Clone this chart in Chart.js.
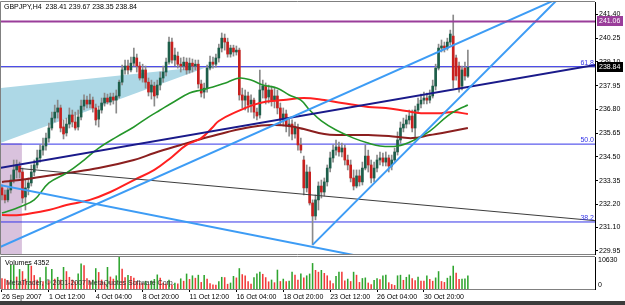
<!DOCTYPE html>
<html>
<head>
<meta charset="utf-8">
<script src="https://cdn.jsdelivr.net/npm/chart.js@4.4.0/dist/chart.umd.min.js"></script>
<style>
  html, body { margin: 0; padding: 0; background: #fff; }
  #wrap { position: relative; width: 625px; height: 305px; overflow: hidden; background: #fff; }
  #main { position: absolute; left: 0; top: 0; }
  #vol { position: absolute; left: 0; top: 256px; }
  #foot { position: absolute; left: 0; top: 301px; width: 625px; height: 4px; background: #3c3c3c; }
</style>
</head>
<body>
<div id="wrap">
  <canvas id="main" width="625" height="256"></canvas>
  <canvas id="vol" width="625" height="45"></canvas>
  <div id="foot"></div>
</div>
<script>
// GBPJPY H4, 160 bars
const openP = [
  233.00,232.66,232.42,232.90,233.38,233.87,234.06,233.77,232.56,233.00,
  233.24,233.77,234.11,234.45,234.83,235.03,235.41,235.90,236.38,236.67,
  236.87,235.95,235.66,236.09,236.53,236.19,235.95,236.43,236.96,237.25,
  237.06,237.25,236.87,236.33,236.77,237.11,237.35,237.16,237.40,237.25,
  237.45,238.12,238.71,238.90,238.71,239.04,239.29,238.90,238.32,238.71,
  238.12,237.64,237.93,237.50,237.98,238.32,238.61,239.09,240.06,239.19,
  239.38,238.99,238.90,239.09,238.71,239.04,238.90,238.99,238.03,237.64,
  237.83,238.80,239.09,238.99,239.29,239.77,240.25,240.06,239.48,239.77,
  239.58,239.67,237.50,237.25,237.45,237.06,237.25,236.67,236.53,237.74,
  237.93,237.40,237.74,237.25,237.45,236.87,236.29,236.58,236.00,236.09,
  235.61,235.90,235.08,234.35,233.00,233.77,232.27,231.64,232.42,233.09,
  232.80,233.29,233.96,234.45,234.83,234.98,234.74,234.93,234.35,234.11,
  233.48,233.09,233.58,233.29,233.96,234.54,234.11,233.48,233.96,234.35,
  234.45,234.25,234.45,234.06,234.35,234.74,235.32,235.90,236.09,236.29,
  236.48,235.90,236.77,237.06,237.25,237.35,237.25,237.45,237.93,238.80,
  239.77,239.87,239.77,240.06,240.35,239.29,238.90,237.93,238.80,238.41
];
const highP = [
  233.14,232.90,233.00,233.63,234.35,234.35,234.25,233.96,233.38,233.48,
  234.11,234.35,234.83,235.08,235.41,235.66,236.14,236.67,237.01,237.25,
  237.01,236.29,236.38,236.87,236.77,236.67,236.77,237.25,237.50,237.45,
  237.54,237.40,237.06,236.96,237.35,237.59,237.54,237.59,237.59,237.74,
  238.22,238.95,239.19,239.19,239.33,239.77,239.48,239.09,238.99,238.90,
  238.32,238.22,238.12,238.22,238.61,238.90,239.29,240.30,240.25,239.77,
  239.58,239.29,239.33,239.29,239.29,239.24,239.19,239.19,238.22,238.08,
  238.95,239.38,239.33,239.48,239.96,240.50,240.45,240.25,239.91,239.91,
  239.87,239.77,237.83,237.74,237.64,237.50,237.35,236.87,238.71,238.22,
  238.08,237.98,237.93,237.83,237.74,237.11,236.87,236.77,236.38,236.29,
  236.19,236.09,235.41,234.54,234.11,234.01,232.42,232.66,233.29,233.38,
  233.48,234.11,234.74,235.08,235.32,235.22,235.17,235.08,234.59,234.35,
  233.87,233.87,233.87,234.25,235.08,234.83,234.35,234.25,234.59,234.74,
  234.69,234.74,234.59,234.59,234.93,235.71,236.19,236.38,236.53,236.77,
  236.77,236.96,237.35,237.54,237.64,237.59,237.74,238.22,238.99,239.96,
  240.16,240.06,240.25,240.64,241.37,239.43,239.09,238.90,239.09,239.67
];
const lowP = [
  232.42,232.27,232.32,232.75,233.24,233.48,233.48,232.27,231.93,232.66,
  233.09,233.58,233.96,234.25,234.59,234.83,235.22,235.80,236.19,236.38,
  235.71,235.37,235.51,235.90,235.95,235.80,235.80,236.29,236.77,236.87,
  236.87,236.67,236.04,235.95,236.62,236.96,237.06,237.01,237.06,236.62,
  237.35,237.98,238.51,238.51,238.61,238.90,238.61,238.22,238.12,237.83,
  237.45,237.30,236.96,237.35,237.74,238.12,238.42,238.99,239.04,238.90,
  238.80,238.61,238.71,238.51,238.56,238.61,238.71,237.83,237.40,237.35,
  237.64,238.71,238.80,238.85,239.09,239.58,239.67,239.33,239.33,239.38,
  239.43,237.25,236.87,236.77,236.67,236.67,236.38,236.29,236.38,237.35,
  237.06,237.11,236.96,236.87,236.58,236.04,236.00,235.71,235.51,235.32,
  235.41,234.83,234.69,232.66,232.80,232.17,230.24,231.45,231.93,232.51,
  232.61,233.09,233.77,234.25,234.59,234.54,234.50,234.11,233.87,233.29,
  232.90,233.00,233.09,233.14,233.87,233.77,233.24,233.29,233.77,234.11,
  234.06,234.06,233.77,233.87,234.21,234.59,235.17,235.71,235.90,236.09,
  235.71,235.32,236.62,236.87,237.06,237.06,237.11,237.35,237.74,238.71,
  239.58,239.58,239.67,239.91,237.83,238.22,237.64,237.74,238.22,238.35
];
const closeP = [
  232.66,232.42,232.90,233.38,233.87,234.11,233.77,232.51,233.00,233.24,
  233.77,234.11,234.45,234.83,235.03,235.41,235.90,236.38,236.67,236.87,
  235.90,235.61,236.09,236.53,236.19,235.90,236.43,236.96,237.25,237.06,
  237.25,236.87,236.29,236.77,237.11,237.35,237.16,237.40,237.25,237.45,
  238.12,238.71,238.90,238.71,239.04,239.33,238.90,238.32,238.71,238.12,
  237.64,237.98,237.45,237.98,238.32,238.61,239.09,240.06,239.19,239.43,
  238.99,238.90,239.09,238.71,239.04,238.90,238.99,238.03,237.59,237.83,
  238.80,239.09,238.99,239.29,239.77,240.25,240.06,239.48,239.77,239.58,
  239.67,237.50,237.25,237.45,237.01,237.25,236.67,236.48,237.74,237.93,
  237.35,237.74,237.25,237.45,236.87,236.29,236.58,236.00,236.09,235.61,
  235.90,235.08,234.83,233.00,233.77,232.27,231.64,232.42,233.09,232.80,
  233.29,233.96,234.45,234.83,234.98,234.74,234.93,234.35,234.11,233.48,
  233.09,233.58,233.29,233.96,234.54,234.11,233.48,233.96,234.35,234.45,
  234.25,234.45,234.06,234.35,234.74,235.32,235.90,236.09,236.29,236.48,
  235.90,236.77,237.06,237.25,237.35,237.25,237.45,237.93,238.80,239.77,
  239.87,239.77,240.06,240.45,238.22,238.42,237.83,238.71,238.42,238.84
];
const volumes = [
  3500,3300,2800,7900,8000,4000,6500,5800,3300,8200,
  7600,4500,3000,3800,2500,7300,2700,6500,3300,3900,
  3000,7200,5800,3900,3000,2400,5000,8400,7800,3500,
  2600,3000,6800,5500,3000,2200,7200,4000,3300,4400,
  10630,6600,3800,4500,4200,3600,2500,2000,1800,2600,
  1500,2700,3200,4700,3600,2000,1600,3000,1400,2000,
  1700,3400,2600,5000,3200,4400,3600,4600,2200,4500,
  3300,1800,1400,1300,2500,3900,3800,1600,2000,4200,
  3700,6800,4800,4400,2500,1600,3800,5000,5600,4900,
  3800,2400,3000,2100,6300,2500,3300,2500,2600,5600,
  4600,3000,5000,3700,4400,5000,8500,6200,5600,6200,
  5200,4400,2700,1800,4200,5600,5600,2700,3300,2500,
  5600,4600,2200,3500,3700,2000,1500,2900,3500,3100,
  4400,4600,2100,1500,1200,4400,4600,2900,3900,4700,
  3500,2800,4000,2600,2600,4400,3200,2600,3700,5800,
  2500,2200,3600,4300,7600,5300,3200,3300,3400,4352
];

// moving averages, read at sample bars
const maFastX = [0,6,11,16,22,28,33,39,45,50,54,58,64,68,72,77,81,85,89,94,98,102,105,109,114,120,125,129,135,140,146,152,156,159];
const maFast = [231.78,232.08,232.42,233.24,233.72,234.35,234.93,235.46,235.95,236.43,236.77,237.11,237.59,237.74,237.88,238.12,238.32,238.22,237.98,237.83,237.50,237.25,236.77,236.24,235.80,235.41,235.17,235.03,235.03,235.27,235.75,236.48,236.82,237.01];
const maMidX = [0,6,16,22,30,37,45,52,58,63,68,72,74,79,88,96,103,110,116,125,131,138,143,150,154,159];
const maMid = [231.69,231.69,231.93,232.17,232.42,232.80,233.38,233.87,234.50,235.08,235.41,235.95,236.24,236.62,237.11,237.25,237.35,237.25,237.11,236.92,236.87,236.72,236.62,236.62,236.67,236.58];
const maSlowX = [0,6,13,22,33,45,52,61,68,77,85,92,98,103,110,115,125,132,140,146,152,159];
const maSlow = [233.29,233.38,233.53,233.72,233.96,234.35,234.69,235.08,235.37,235.71,235.95,236.04,236.00,235.85,235.61,235.56,235.56,235.51,235.41,235.56,235.71,235.90];

// drawn objects (bar index, price)
const navyX = [-2, 205], navyY = [233.93, 239.01];
const blackX = [6.1, 205], blackY = [233.94, 231.38];
const blueAX = [-2, 125], blueAY = [233.18, 229.61];
const blueBX = [-2, 190], blueBY = [230.05, 242.18];
const blueCX = [106, 190], blueCY = [230.24, 242.18];
const triX = [-0.7, 71], triTop = [237.83, 238.90], triBottom = [235.17, 238.90];
const rectX = [-0.7, 6.8], rectTop = 235.17;
const fibLevels = [238.87, 235.12, 231.35];
const fibLabels = ['61.8', '50.0', '38.2'];
const purpleLevel = 241.06;
const bidLevel = 238.84;

const priceTicks = [241.40, 240.25, 239.10, 237.95, 236.80, 235.65, 234.50, 233.35, 232.20, 231.10, 229.95];
const xTickIdx = [0, 16, 32, 48, 64, 80, 96, 112, 128, 144];
const xTickLabels = ['26 Sep 2007', '1 Oct 12:00', '4 Oct 04:00', '8 Oct 20:00', '11 Oct 12:00',
  '16 Oct 04:00', '18 Oct 20:00', '23 Oct 12:00', '26 Oct 04:00', '30 Oct 20:00'];

const xMin = -0.34, xMax = 202.39;
const pMin = 229.80, pMax = 242.00;
const FONT = '"Liberation Sans", Arial, sans-serif';

Chart.defaults.font.family = FONT;
Chart.defaults.font.size = 7;
Chart.defaults.color = '#000';

function pts(xs, ys) {
  return xs.map((x, i) => ({ x: x, y: ys[i] }));
}
function lineSet(xs, ys, color, width, order, extra) {
  return Object.assign({
    type: 'line', data: pts(xs, ys), borderColor: color, borderWidth: width,
    pointRadius: 0, tension: 0, fill: false, order: order
  }, extra || {});
}
function hLine(v, color, width, order) {
  return lineSet([xMin - 1, xMax + 1], [v, v], color, width, order);
}

const bull = '#1d5e4a', bear = '#c8201e';
const last = closeP.length - 1;

const datasets = [
  lineSet(rectX, [rectTop, rectTop], 'rgba(0,0,0,0)', 0, 100, { fill: 'start', backgroundColor: '#d9c2dd' }),
  lineSet(triX, triTop, 'rgba(0,0,0,0)', 0, 99),
  lineSet(triX, triBottom, 'rgba(0,0,0,0)', 0, 99, { fill: '-1', backgroundColor: '#add8e6' }),
  hLine(bidLevel, '#c4c4c4', 1, 91)
];
fibLevels.forEach(v => datasets.push(hLine(v, '#3434e8', 1, 90)));
datasets.push(
  {
    type: 'bar', data: lowP.map((l, i) => ({ x: i, y: [l, highP[i]] })),
    backgroundColor: '#8a8a8a', barThickness: 1, grouped: false, order: 60
  },
  {
    type: 'bar', data: openP.map((o, i) => ({ x: i, y: [o, closeP[i]] })),
    backgroundColor: openP.map((o, i) => closeP[i] >= o ? bull : bear),
    barThickness: 2, minBarLength: 1, grouped: false, order: 50
  },
  lineSet(maSlowX, maSlow, '#8b1f1f', 2, 32, { tension: 0.4 }),
  lineSet(maMidX, maMid, '#ff2020', 2, 31, { tension: 0.4 }),
  lineSet(maFastX, maFast, '#24962a', 1.6, 30, { tension: 0.4 }),
  lineSet(blackX, blackY, '#3c3c3c', 1, 22),
  lineSet(navyX, navyY, '#1a1a8a', 2, 21),
  lineSet(blueAX, blueAY, '#3d9cf5', 2, 20),
  lineSet(blueBX, blueBY, '#3d9cf5', 2, 20),
  lineSet(blueCX, blueCY, '#3d9cf5', 2, 20),
  hLine(purpleLevel, '#9a3d9a', 2, 10)
);

const mainOverlay = {
  id: 'mainOverlay',
  afterDraw(chart) {
    const { ctx, chartArea: a } = chart;
    const y = chart.scales.y;
    ctx.save();
    ctx.strokeStyle = '#808080';
    ctx.lineWidth = 1;
    ctx.beginPath();
    ctx.moveTo(a.left - 0.5, a.bottom + 0.5);
    ctx.lineTo(a.left - 0.5, a.top - 0.5);
    ctx.lineTo(a.right, a.top - 0.5);
    ctx.moveTo(a.left - 0.5, a.bottom + 0.5);
    ctx.lineTo(a.right, a.bottom + 0.5);
    ctx.stroke();

    ctx.font = '7px ' + FONT;
    ctx.textBaseline = 'middle';
    ctx.fillStyle = '#000';
    ctx.textAlign = 'left';
    ctx.fillText('GBPJPY,H4  ' + [openP[last], highP[last], lowP[last], closeP[last]].map(v => v.toFixed(2)).join(' '),
      a.left + 3, a.top + 5);

    ctx.fillStyle = '#3434e8';
    ctx.textAlign = 'right';
    ctx.textBaseline = 'alphabetic';
    fibLevels.forEach((v, i) => {
      ctx.fillText(fibLabels[i], a.right - 1, y.getPixelForValue(v) - 2);
    });

    ctx.textAlign = 'left';
    ctx.textBaseline = 'middle';
    [[purpleLevel, '#9a3d9a'], [bidLevel, '#000']].forEach(([v, c]) => {
      const py = Math.round(y.getPixelForValue(v));
      ctx.fillStyle = c;
      ctx.fillRect(a.right + 2, py - 5, 26, 10);
      ctx.fillStyle = '#fff';
      ctx.fillText(v.toFixed(2), a.right + 4, py + 0.5);
    });
    ctx.restore();
  }
};

new Chart(document.getElementById('main'), {
  type: 'bar',
  data: { datasets: datasets },
  options: {
    responsive: false,
    animation: false,
    devicePixelRatio: 1,
    layout: { padding: { left: 1, top: 2, right: 0, bottom: 2 } },
    plugins: { legend: { display: false }, tooltip: { enabled: false } },
    scales: {
      x: { type: 'linear', min: xMin, max: xMax, offset: false, display: false },
      y: {
        type: 'linear', position: 'right', min: pMin, max: pMax,
        afterBuildTicks: s => { s.ticks = priceTicks.map(v => ({ value: v })); },
        afterFit: s => { s.width = 30; s.paddingTop = 0; s.paddingBottom = 0; },
        ticks: { callback: v => v.toFixed(2), padding: 1, color: '#000' },
        grid: { drawOnChartArea: false, tickLength: 3, color: '#000' },
        border: { color: '#000' }
      }
    }
  },
  plugins: [mainOverlay]
});

// volume panel
const volGreen = '#2fa52f', volRed = '#f23a3a';
const volColors = volumes.map((v, i) => (i > 0 && v > volumes[i - 1]) ? volGreen : volRed);

const volOverlay = {
  id: 'volOverlay',
  afterDraw(chart) {
    const { ctx, chartArea: a } = chart;
    ctx.save();
    ctx.strokeStyle = '#808080';
    ctx.lineWidth = 1;
    ctx.beginPath();
    ctx.moveTo(a.left - 0.5, a.bottom);
    ctx.lineTo(a.left - 0.5, a.top - 0.5);
    ctx.lineTo(a.right, a.top - 0.5);
    ctx.stroke();
    ctx.font = '7px ' + FONT;
    ctx.textBaseline = 'middle';
    ctx.textAlign = 'left';
    ctx.fillStyle = '#000';
    ctx.fillText('Volumes ' + volumes[last], a.left + 4, a.top + 6);
    ctx.fillStyle = '#333';
    ctx.fillText('MetaTrader, \u00a9 2001-2007 MetaQuotes Software Corp.', a.left + 5, a.bottom - 6);
    ctx.fillStyle = '#000';
    ctx.fillText('10630', a.right + 3, a.top + 3);
    ctx.fillText('0', a.right + 3, a.bottom - 4);
    ctx.restore();
  }
};

new Chart(document.getElementById('vol'), {
  type: 'bar',
  data: {
    datasets: [{
      data: volumes.map((v, i) => ({ x: i, y: v })),
      backgroundColor: volColors, barThickness: 0.9, grouped: false
    }]
  },
  options: {
    responsive: false,
    animation: false,
    devicePixelRatio: 1,
    layout: { padding: { left: 1, top: 1, right: 0, bottom: 0 } },
    plugins: { legend: { display: false }, tooltip: { enabled: false } },
    scales: {
      x: {
        type: 'linear', min: xMin, max: xMax, offset: false, position: 'bottom',
        afterBuildTicks: s => { s.ticks = xTickIdx.map(v => ({ value: v })); },
        afterFit: s => { s.height = 12; s.paddingLeft = 0; s.paddingRight = 0; },
        ticks: { callback: (v, i) => xTickLabels[i], align: 'start', maxRotation: 0, autoSkip: false, padding: 1, color: '#000' },
        grid: { drawOnChartArea: false, tickLength: 3, color: '#000', offset: false },
        border: { color: '#808080', dash: [1, 1] }
      },
      y: {
        type: 'linear', position: 'right', min: 0, max: 10630,
        afterFit: s => { s.width = 30; s.paddingTop = 0; s.paddingBottom = 0; },
        ticks: { display: false },
        grid: { display: false },
        border: { color: '#000' }
      }
    }
  },
  plugins: [volOverlay]
});
</script>
</body>
</html>
